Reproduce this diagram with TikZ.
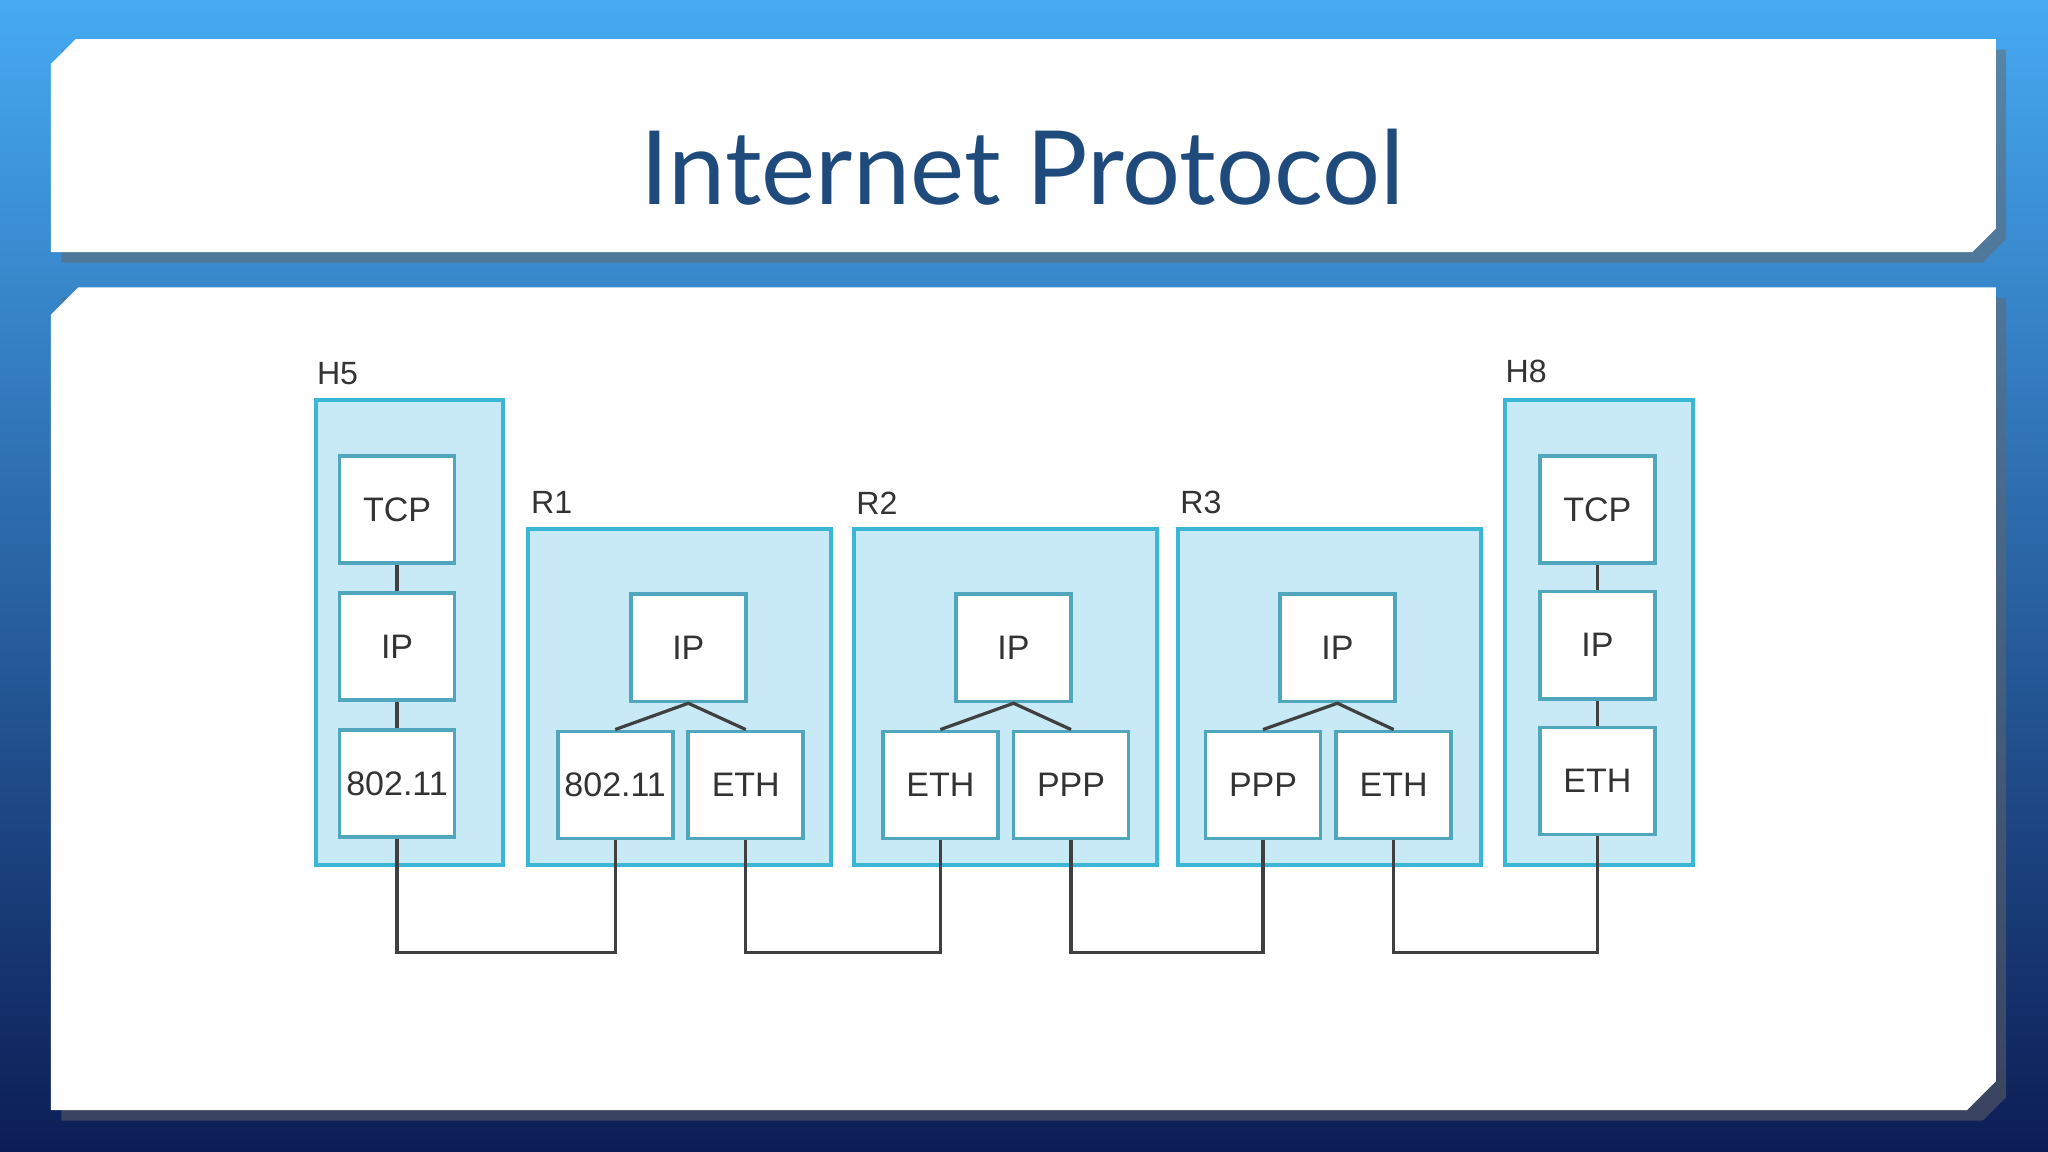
\documentclass[tikz,border=0pt]{standalone}
\usepackage{fontspec}
\setmainfont{Liberation Sans}
\newfontfamily\titlefont{Lato}
\definecolor{bgtop}{HTML}{46AAF2}
\definecolor{bgmid}{HTML}{1F66B8}
\definecolor{bgbot}{HTML}{0C1D55}
\definecolor{ttl}{HTML}{1F4A7C}
\definecolor{grpfill}{HTML}{C8EAF6}
\definecolor{grpdraw}{HTML}{3CB6D6}
\begin{document}
\begin{tikzpicture}[x=0.01cm,y=-0.01cm,
 grp/.style={fill=grpfill,draw=grpdraw,line width=0.9pt},
 lay/.style={draw=grpdraw!70!gray,fill=white,line width=0.8pt,minimum width=0.88cm,minimum height=0.82cm,inner sep=0pt,font=\fontsize{7.4}{8}\selectfont,text=black!80},
 lbl/.style={font=\fontsize{7}{8}\selectfont,text=black!80,anchor=west,inner sep=0pt},
 wire/.style={draw=black!75,line width=0.7pt}]
\useasboundingbox (0,0) rectangle (1568,882);
\shade[top color=bgtop,middle color=bgmid,bottom color=bgbot] (0,0) rectangle (1568,882);
% panels with shadow
\fill[black!60,opacity=0.5] (47,38) -- (1536,38) -- (1536,183) -- (1518,201) -- (47,201) -- cycle;
\fill[white] (58,30) -- (1528,30) -- (1528,175) -- (1510,193) -- (39,193) -- (39,49) -- cycle;
\fill[black!60,opacity=0.5] (47,228) -- (1536,228) -- (1536,840) -- (1518,858) -- (47,858) -- cycle;
\fill[white] (60,220) -- (1528,220) -- (1528,828) -- (1506,850) -- (39,850) -- (39,241) -- cycle;
\node[font=\titlefont\fontsize{22.3}{26}\selectfont,text=ttl] (title) at (783,128) {Internet Protocol};
% groups
\draw[grp] (242,306) rectangle (385,662);
\draw[grp] (404,405) rectangle (636,662);
\draw[grp] (654,405) rectangle (886,662);
\draw[grp] (902,405) rectangle (1134,662);
\draw[grp] (1152,306) rectangle (1296,662);
\node[lbl] (lh5) at (242,286) {H5};
\node[lbl] (lr1) at (406,385) {R1};
\node[lbl] (lr2) at (655,385) {R2};
\node[lbl] (lr3) at (903,385) {R3};
\node[lbl] (lh8) at (1152,284) {H8};
% H5
\node[lay] (tcp5) at (304,390) {TCP};
\node[lay] (ip5) at (304,495) {IP};
\node[lay] (w5) at (304,600) {802.11};
\draw[wire] (tcp5) -- (ip5); \draw[wire] (ip5) -- (w5);
% R1
\node[lay] (ip1) at (527,496) {IP};
\node[lay] (w1) at (471,601) {802.11};
\node[lay] (e1) at (571,601) {ETH};
% R2
\node[lay] (ip2) at (776,496) {IP};
\node[lay] (e2) at (720,601) {ETH};
\node[lay] (p2) at (820,601) {PPP};
% R3
\node[lay] (ip3) at (1024,496) {IP};
\node[lay] (p3) at (967,601) {PPP};
\node[lay] (e3) at (1067,601) {ETH};
% H8
\node[lay] (tcp8) at (1223,390) {TCP};
\node[lay] (ip8) at (1223,494) {IP};
\node[lay] (e8) at (1223,598) {ETH};
\draw[wire] (tcp8) -- (ip8); \draw[wire] (ip8) -- (e8);
\foreach \i/\a/\b in {ip1/w1/e1,ip2/e2/p2,ip3/p3/e3}{
 \draw[wire] (\a.north) -- (\i.south) -- (\b.north);}
% links
\coordinate (yb) at (0,729);
\draw[wire] (w5.south) |- (w1.south |- yb) -- (w1.south);
\draw[wire] (e1.south) |- (e2.south |- yb) -- (e2.south);
\draw[wire] (p2.south) |- (p3.south |- yb) -- (p3.south);
\draw[wire] (e3.south) |- (e8.south |- yb) -- (e8.south);
\end{tikzpicture}
\end{document}
